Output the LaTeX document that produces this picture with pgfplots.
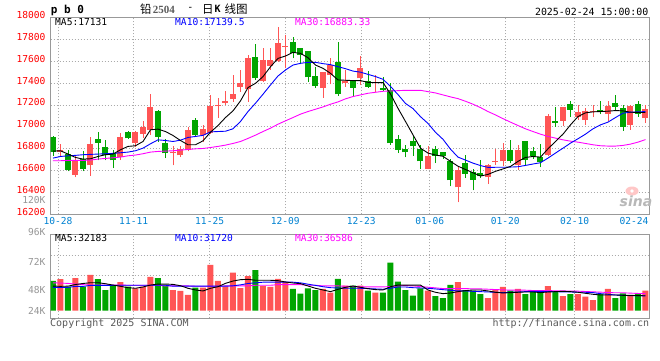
\documentclass[border=0pt]{standalone}
\usepackage{pgfplots}
\pgfplotsset{compat=1.18}
\usepackage{pgfplotstable}
\usepackage{fontspec}
\setmainfont{DejaVu Sans Mono}
\newfontfamily\cjk{Noto Sans CJK SC}
\newfontfamily\serifb{Liberation Serif}
\newfontfamily\sansf{DejaVu Sans}
\definecolor{cred}{RGB}{255,85,85}
\definecolor{cgreen}{RGB}{0,165,0}
\definecolor{framec}{RGB}{153,153,153}
\definecolor{gridc}{RGB}{170,170,170}
\definecolor{datec}{RGB}{0,130,210}
\definecolor{mablue}{RGB}{0,0,255}
\definecolor{mamag}{RGB}{255,0,255}
\definecolor{labc}{RGB}{255,0,0}
\definecolor{vlab}{RGB}{150,150,150}
\definecolor{copyc}{RGB}{90,90,90}

% rising candles: i open high low close
\pgfplotstableread{
i O H L C
1 16769 16845 16730 16790
3 16562 16729 16538 16699
5 16647 16909 16553 16845
9 16723 16948 16696 16909
11 16851 16960 16815 16954
12 16933 17055 16897 17000
13 16970 17301 16927 17182
16 16760 16821 16647 16769
17 16739 16821 16723 16799
18 16784 17003 16775 16973
20 16921 17018 16860 16979
21 16942 17292 16933 17195
22 17188 17261 17085 17201
23 17222 17328 17201 17237
24 17252 17474 17225 17301
25 17368 17520 17322 17401
26 17347 17657 17231 17632
28 17423 17717 17413 17611
29 17559 17717 17520 17611
30 17605 17909 17596 17766
31 17730 17839 17535 17739
36 17353 17504 17268 17499
37 17474 17632 17389 17568
39 17401 17520 17368 17423
41 17444 17651 17383 17541
43 17398 17474 17322 17413
50 16617 16827 16610 16735
54 16447 16638 16310 16608
58 16538 16660 16477 16653
59 16684 16796 16653 16690
60 16684 16851 16638 16790
62 16647 16836 16608 16790
66 16745 17119 16729 17100
68 17055 17185 17009 17182
70 17094 17201 17064 17137
71 17064 17170 17018 17146
72 17134 17201 17088 17143
74 17116 17237 17049 17195
77 17018 17201 16973 17195
79 17085 17201 17033 17164
}\up

% falling candles: i open high low close
\pgfplotstableread{
i O H L C
0 16903 16918 16736 16769
2 16751 16790 16593 16608
4 16705 16781 16593 16617
6 16891 16954 16693 16854
7 16815 16881 16693 16739
8 16757 16790 16623 16693
10 16954 16960 16890 16894
14 17146 17155 16860 16906
15 16854 16891 16714 16757
19 17064 17085 16912 16921
27 17635 17754 17429 17444
32 17772 17818 17626 17672
33 17720 17725 17571 17657
34 17693 17698 17413 17453
35 17465 17550 17359 17374
38 17596 17778 17286 17298
40 17426 17430 17277 17359
42 17419 17511 17359 17368
44 17359 17459 17328 17337
45 17337 17398 16836 16848
46 16891 16921 16760 16790
47 16799 16830 16720 16766
48 16872 16912 16735 16827
49 16799 16836 16617 16684
51 16799 16821 16669 16735
52 16766 16770 16708 16729
53 16690 16708 16456 16510
55 16669 16739 16532 16571
56 16584 16617 16419 16517
57 16577 16699 16532 16547
61 16790 16881 16669 16684
63 16866 16872 16653 16699
64 16781 16812 16708 16729
65 16720 16845 16629 16675
67 17055 17185 17003 17039
69 17210 17237 17094 17158
73 17155 17237 17116 17134
75 17216 17292 17155 17185
76 17170 17201 16963 17003
78 17207 17237 17094 17116
}\dn

\pgfplotstableread{
i a b c
0 16778 16714 16690
1 16781 16729 16690
2 16751 16735 16693
3 16720 16739 16693
4 16705 16745 16693
5 16708 16748 16696
6 16729 16751 16705
7 16745 16754 16711
8 16751 16757 16717
9 16790 16763 16723
10 16821 16769 16735
11 16827 16781 16742
12 16866 16805 16754
13 16973 16845 16769
14 16979 16881 16775
15 16957 16875 16778
16 16921 16866 16781
17 16875 16878 16787
18 16836 16903 16793
19 16836 16912 16799
20 16872 16922 16802
21 16951 16954 16811
22 17012 16957 16821
23 17085 16960 16833
24 17146 16982 16848
25 17237 17049 16866
26 17359 17140 16894
27 17398 17216 16924
28 17459 17298 16957
29 17550 17383 16988
30 17626 17465 17024
31 17648 17520 17055
32 17681 17565 17085
33 17672 17581 17116
34 17632 17590 17140
35 17565 17590 17161
36 17535 17578 17182
37 17489 17569 17207
38 17429 17550 17228
39 17426 17532 17256
40 17423 17510 17277
41 17423 17500 17292
42 17407 17480 17307
43 17404 17460 17316
44 17404 17435 17325
45 17301 17370 17328
46 17170 17295 17331
47 17049 17214 17334
48 16927 17167 17334
49 16805 17093 17334
50 16760 17031 17322
51 16742 16950 17310
52 16731 16886 17292
53 16684 16796 17274
54 16640 16723 17258
55 16610 16696 17234
56 16580 16668 17207
57 16550 16646 17176
58 16565 16629 17140
59 16593 16630 17109
60 16615 16630 17075
61 16638 16632 17043
62 16684 16635 17012
63 16720 16647 16982
64 16729 16660 16957
65 16723 16672 16933
66 16799 16714 16912
67 16866 16760 16897
68 16933 16805 16881
69 17018 16851 16869
70 17094 16891 16860
71 17128 16933 16848
72 17137 16982 16836
73 17140 17018 16827
74 17143 17043 16824
75 17149 17085 16824
76 17146 17125 16830
77 17134 17134 16842
78 17131 17137 16860
79 17131 17139.5 16883.33
}\pma

\pgfplotstableread{
i a b c
0 53000 50200 60000
1 52400 50200 59400
2 52800 50200 58700
3 56300 52300 57400
4 58500 52300 56000
5 60200 54400 55200
6 60200 54400 55200
7 58000 54400 55200
8 55100 54400 55200
9 52400 54800 55200
10 49500 54800 54700
11 48200 54800 54700
12 51000 54800 54700
13 55100 54800 54700
14 57300 54800 54700
15 57300 54800 53300
16 56600 52700 53300
17 53700 52700 53300
18 48200 52700 53300
19 44600 52700 52600
20 42400 52700 52600
21 48200 52700 52600
22 51600 52700 52600
23 58800 52700 53300
24 63800 53500 53300
25 66700 55600 53300
26 67500 58500 53300
27 65400 59900 54700
28 65400 61300 54700
29 65400 61300 54700
30 64600 61300 56000
31 61800 61300 56000
32 59600 61300 56000
33 58200 59900 56000
34 53100 57000 54700
35 48200 54400 54700
36 44600 51600 53300
37 41000 49500 53300
38 46000 48900 53300
39 50300 48200 52600
40 53000 48200 51900
41 50300 48200 51200
42 47400 47500 51200
43 45300 46800 51200
44 44600 46100 51200
45 51600 48200 51900
46 55100 51000 53300
47 55100 51000 54000
48 55100 49500 53300
49 55100 48900 51900
50 44600 48200 50500
51 39600 46800 49100
52 36700 45300 47600
53 38100 43900 47600
54 41000 42500 47600
55 43200 42500 47600
56 44600 41700 46900
57 44600 41000 46900
58 42500 40300 46200
59 39600 39600 45500
60 38100 38900 44800
61 38900 39600 44100
62 39600 40300 44100
63 40300 41000 44100
64 40300 41700 43400
65 38900 41700 43400
66 40300 41000 43400
67 41000 41000 42700
68 41700 40300 42700
69 41000 40300 42000
70 39600 39600 42000
71 37400 39600 41300
72 35300 38900 40600
73 33800 36700 39900
74 33800 35300 39200
75 33800 33800 38500
76 33100 33100 38500
77 33100 32400 37800
78 32400 32400 37100
79 32183 31720 36586
}\vma

\begin{document}
\begin{tikzpicture}[font=\fontsize{9.6}{11}\selectfont]
\useasboundingbox (0,0) rectangle (660pt,360pt);
\fill[white] (0,0) rectangle (660pt,360pt);

\begin{axis}[
  at={(50.5pt,145.7pt)}, anchor=south west, scale only axis,
  width=598.8pt, height=196.8pt,
  xmin=-0.333, xmax=79.51, ymin=16200, ymax=18000,
  axis line style={draw=framec, line width=1.2pt},
  major tick length=0pt, scaled y ticks=false, scaled x ticks=false,
  ytick={16200,16400,16600,16800,17000,17200,17400,17600,17800,18000},
  yticklabels={16200,16400,16600,16800,17000,17200,17400,17600,17800,18000},
  yticklabel style={text=labc, anchor=east, inner sep=0pt, xshift=-4.8pt, yshift=2.5pt},
  xtick={0.667,10.76,20.89,30.97,41.11,50.23,60.31,69.56},
  xticklabels={10-28,11-11,11-25,12-09,12-23,01-06,01-20,02-10},
  extra x ticks={77.47}, extra x tick labels={02-24},
  extra x tick style={grid=none},
  xticklabel style={text=datec, anchor=north, inner sep=0pt, yshift=-3pt},
  tick label style={font=\fontsize{9.6}{11}\selectfont},
  grid=major,
  major grid style={draw=gridc, line width=0.8pt, dash pattern=on 1pt off 2pt},
]
% wicks
\addplot[draw=none, no markers, error bars/.cd, y dir=plus, y explicit, error mark=none,
  error bar style={draw=cred, line width=0.9pt}]
  table[x=i, y=L, y error plus expr=\thisrow{H}-\thisrow{L}] {\up};
\addplot[draw=none, no markers, error bars/.cd, y dir=plus, y explicit, error mark=none,
  error bar style={draw=cgreen, line width=0.9pt}]
  table[x=i, y=L, y error plus expr=\thisrow{H}-\thisrow{L}] {\dn};
% bodies
\addplot[draw=none, no markers, error bars/.cd, y dir=plus, y explicit, error mark=none,
  error bar style={draw=cred, line width=6pt}]
  table[x=i, y=O, y error plus expr=\thisrow{C}-\thisrow{O}] {\up};
\addplot[draw=none, no markers, error bars/.cd, y dir=plus, y explicit, error mark=none,
  error bar style={draw=cgreen, line width=6pt}]
  table[x=i, y=C, y error plus expr=\thisrow{O}-\thisrow{C}] {\dn};
\addplot[mamag, line width=0.9pt, no markers] table[x=i,y=c] {\pma};
\addplot[mablue, line width=0.9pt, no markers] table[x=i,y=b] {\pma};
\addplot[black, line width=0.9pt, no markers] table[x=i,y=a] {\pma};
\end{axis}

\begin{axis}[
  at={(50.5pt,41.7pt)}, anchor=south west, scale only axis,
  width=598.8pt, height=83.6pt,
  xmin=-0.333, xmax=79.51, ymin=-16340, ymax=163400,
  axis line style={draw=framec, line width=1.2pt},
  major tick length=0pt, scaled y ticks=false, scaled x ticks=false,
  ytick={76755,119755}, yticklabels={{},{}},
  xtick={0.667,10.76,20.89,30.97,41.11,50.23,60.31,69.56},
  xticklabels={{},{},{},{},{},{},{},{}},
  grid=major,
  major grid style={draw=gridc, line width=0.8pt, dash pattern=on 1pt off 2pt},
]
\addplot[ybar, bar width=6pt, bar shift=0pt, fill=cred, draw=none] coordinates {
(1,68000) (3,70300) (5,76800) (9,61700) (11,48100) (12,51600) (13,72500)
(16,44500) (17,42400) (18,33800) (20,49500) (21,98300) (22,63900) (23,51600)
(24,81700) (25,48800) (26,74600) (28,53100) (29,51000) (30,68200) (31,61700)
(36,46700) (37,38700) (39,53800) (41,53800) (43,38700) (50,43000) (54,61700)
(58,27300) (59,44500) (60,51000) (62,46700) (66,53100) (68,31600) (70,35900)
(71,30100) (72,23000) (74,46700) (77,31600) (79,43000)};
\addplot[ybar, bar width=6pt, bar shift=0pt, fill=cgreen, draw=none] coordinates {
(0,63900) (2,51600) (4,51600) (6,68000) (7,44500) (8,54600) (10,51600)
(14,70300) (15,53800) (19,49500) (27,87500) (32,46700) (33,36600) (34,48100)
(35,44500) (38,68200) (40,53800) (42,43000) (44,38700) (45,103200) (46,62400)
(47,44500) (48,32300) (49,48100) (51,31600) (52,27300) (53,55300) (55,44500)
(56,43000) (57,35900) (61,43000) (63,35900) (64,41700) (65,41700) (67,41700)
(69,35900) (73,35900) (75,27300) (76,37400) (78,37400)};
\addplot[mamag, line width=0.9pt, no markers] table[x=i,y=c] {\vma};
\addplot[mablue, line width=0.9pt, no markers] table[x=i,y=b] {\vma};
\addplot[black, line width=0.9pt, no markers] table[x=i,y=a] {\vma};
\end{axis}

% header texts
\node[anchor=west, inner sep=0pt, font=\bfseries\fontsize{11}{12}\selectfont] at (50.7pt,349.5pt) {p b 0};
\node[anchor=west, inner sep=0pt, font=\cjk\fontsize{11.5}{12}\selectfont] at (140pt,351pt) {铅};
\node[anchor=west, inner sep=0pt, text=copyc, font=\serifb\bfseries\fontsize{11}{12}\selectfont] at (152.7pt,350.5pt) {2504};
\node[inner sep=0pt, font=\fontsize{10}{12}\selectfont] at (190.5pt,351pt) {-};
\node[anchor=west, inner sep=0pt, font=\cjk\fontsize{11.5}{12}\selectfont] at (202pt,351pt) {日};
\node[anchor=west, inner sep=0pt, font=\bfseries\fontsize{10}{12}\selectfont] at (214.5pt,351pt) {K};
\node[anchor=west, inner sep=0pt, font=\cjk\fontsize{11.5}{12}\selectfont] at (224.5pt,351pt) {线图};
\node[anchor=east, inner sep=0pt, font=\fontsize{9.9}{11}\selectfont] at (648.5pt,348.3pt) {2025-02-24 15:00:00};

\node[anchor=west, inner sep=0pt] at (55pt,337.5pt) {MA5:17131};
\node[anchor=west, inner sep=0pt, text=mablue] at (175pt,337.5pt) {MA10:17139.5};
\node[anchor=west, inner sep=0pt, text=mamag] at (295pt,337.5pt) {MA30:16883.33};

\node[anchor=west, inner sep=0pt] at (55pt,121.5pt) {MA5:32183};
\node[anchor=west, inner sep=0pt, text=mablue] at (175pt,121.5pt) {MA10:31720};
\node[anchor=west, inner sep=0pt, text=mamag] at (295pt,121.5pt) {MA30:36586};

\node[anchor=east, inner sep=0pt, text=vlab] at (45.7pt,160pt) {120K};
\node[anchor=east, inner sep=0pt, text=vlab] at (45.7pt,128.3pt) {96K};
\node[anchor=east, inner sep=0pt, text=vlab] at (45.7pt,98.3pt) {72K};
\node[anchor=east, inner sep=0pt, text=vlab] at (45.7pt,70pt) {48K};
\node[anchor=east, inner sep=0pt, text=vlab] at (45.7pt,49.3pt) {24K};

\node[anchor=west, inner sep=0pt, text=copyc, font=\fontsize{10}{11}\selectfont] at (50pt,36.5pt) {Copyright 2025 SINA.COM};
\node[anchor=east, inner sep=0pt, text=copyc, font=\fontsize{10}{11}\selectfont] at (649.3pt,36.5pt) {http://finance.sina.com.cn};

% watermark
\fill[red!22] (632pt,169pt) ellipse (6.5pt and 4.5pt);
\fill[white] (632pt,169pt) circle (1.8pt);
\node[inner sep=0pt, text=black!28, font=\sansf\bfseries\itshape\fontsize{14}{14}\selectfont] at (636pt,159pt) {sina};
\end{tikzpicture}
\end{document}
